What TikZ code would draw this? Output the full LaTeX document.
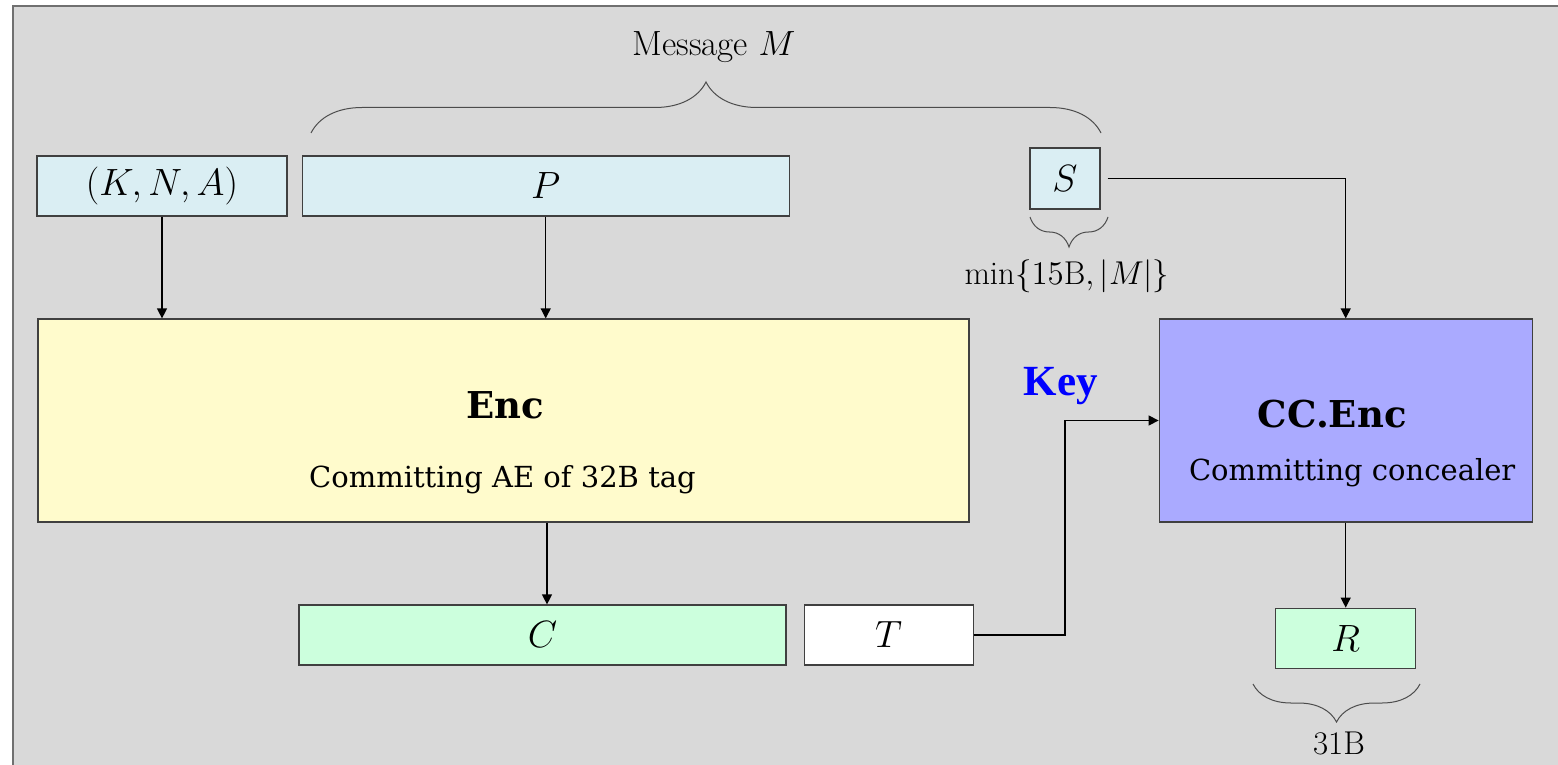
\RequirePackage{fix-cm}
\documentclass[tikz,border=0pt]{standalone}
\usepackage{fontspec}
\newfontfamily\boxfont{DejaVu Serif}
\newfontfamily\keyfont{Liberation Serif}
\usetikzlibrary{positioning, arrows.meta, decorations.pathreplacing}
\definecolor{bggray}{HTML}{D9D9D9}
\definecolor{framegray}{HTML}{707070}
\definecolor{inblue}{HTML}{DAEEF3}
\definecolor{encyellow}{HTML}{FFFBCC}
\definecolor{ccpurple}{HTML}{AAAAFF}
\definecolor{outgreen}{HTML}{CCFFDD}
\newcommand\mathsize{\fontsize{19}{23}\selectfont}
\newcommand\notesize{\fontsize{16.5}{19}\selectfont}
\tikzset{
    block/.style={rectangle, draw=black!75, line width=0.6pt, inner sep=0pt, font=\mathsize},
    arrow/.style={line width=0.6pt, -{Triangle[length=5pt,width=5pt]}},
    msgbrace/.style={decorate, decoration={brace, amplitude=#1}, draw=black!70, line width=0.5pt},
    note/.style={inner sep=0pt, font=\notesize},
    title/.style={inner sep=0pt, font=\boxfont\bfseries\fontsize{18.5}{22}\selectfont},
    subtitle/.style={inner sep=0pt, font=\boxfont\fontsize{14.5}{17}\selectfont},
    keylabel/.style={inner sep=0pt, text=blue, font=\keyfont\bfseries\fontsize{21.5}{25}\selectfont}
}

\begin{document}
\begin{tikzpicture}[x=0.5pt, y=-0.5pt]
\useasboundingbox (0,0) rectangle (1558,765);

% Background panel
\fill[bggray] (13,6) rectangle (1558,765);
\draw[framegray, line width=1pt] (13,765) -- (13,6) -- (1558,6);

% Inputs (light blue)
\node[block, fill=inblue, minimum width=125pt, minimum height=30pt] (kna) at (162,186) {$(K,N,A)$};
\node[block, fill=inblue, minimum width=243.5pt, minimum height=30pt, right=7pt of kna] (ptxt) {$P$};
\node[block, fill=inblue, minimum width=35pt, minimum height=30.5pt] (stxt) at (1065,178.5) {$S$};

% Message brace and length of S
\draw[msgbrace=25.5pt] (311,133) -- (1101,133);
\node[note, font=\fontsize{17.5}{20}\selectfont] (msg) at (714,47) {Message $M$};
\draw[msgbrace=15pt] (1108,217) -- (1030,217);
\node[note] (smin) at (1067,276) {$\min\{15\mathrm{B},|M|\}$};

% Encryption blocks
\node[block, fill=encyellow, minimum width=465.5pt, minimum height=101.5pt] (enc) at (503.5,420.5) {};
\node[title, anchor=base] (enctitle) at ([xshift=0.75pt, yshift=1.25pt]enc.center) {Enc};
\node[subtitle, anchor=base] (encsub) at ([xshift=-0.5pt, yshift=-33.25pt]enc.center) {Committing AE of 32B tag};

\node[block, fill=ccpurple, minimum width=186.5pt, minimum height=101.5pt, right=94.5pt of enc] (ccenc) {};
\node[title, anchor=base] (cctitle) at ([xshift=-6.75pt, yshift=-3.25pt]ccenc.center) {CC.Enc};
\node[subtitle, anchor=base] (ccsub) at ([xshift=3.25pt, yshift=-29.75pt]ccenc.center) {Committing concealer};

% Outputs
\node[block, fill=outgreen, minimum width=243.5pt, minimum height=30pt] (ctxt) at (542.5,635) {$C$};
\node[block, fill=white, minimum width=84.5pt, minimum height=30pt, right=8.5pt of ctxt] (ttag) {$T$};
\node[block, fill=outgreen, minimum width=70pt, minimum height=30pt, below=42.5pt of ccenc] (rtxt) {$R$};
\draw[msgbrace=19pt] (1420,684) -- (1253,684);
\node[note] (rlen) at (1339,743) {31B};

% Key path
\node[keylabel, anchor=base] (key) at (1061,395) {Key};
\coordinate (keyturn) at (1065,420);

% Flows
\draw[arrow] (kna.south) -- (kna.south |- enc.north);
\draw[arrow] (ptxt.south) -- (ptxt.south |- enc.north);
\draw[arrow] ([xshift=2.25pt]enc.south -| ctxt.north) -- ([xshift=2.25pt]ctxt.north);
\draw[arrow] ([xshift=3.5pt]stxt.east) -| (ccenc.north);
\draw[arrow] (ttag.east) -| (keyturn) |- (ccenc.west);
\draw[arrow] (ccenc.south) -- (rtxt.north);

\end{tikzpicture}
\end{document}
